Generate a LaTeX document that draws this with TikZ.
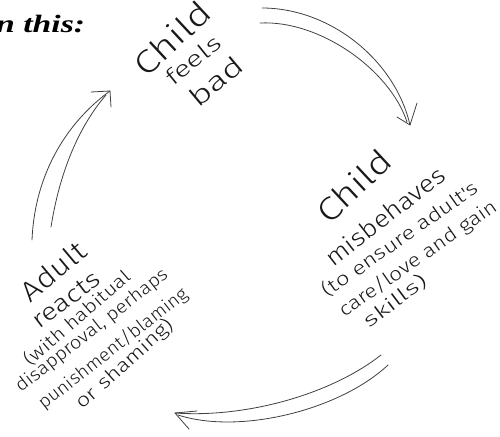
\documentclass[tikz,border=0pt]{standalone}
\usepackage{fontspec}
\usepackage{graphicx}
\newfontfamily\handfont{Fira Sans Light}
\newfontfamily\headfont{Liberation Serif}
\tikzset{
  hw/.style={font=\handfont, inner sep=0pt, text=black!90},
  pen/.style={draw=black!75, line width=0.8pt, line cap=round, line join=round},
}
% a handwritten line: font size, then stretched sideways to a given width
\newcommand{\hwline}[3]{\resizebox{#2}{\height}{\fontsize{#1}{#1}\selectfont #3}}
\begin{document}
\begin{tikzpicture}[x=1pt, y=-1pt]
\useasboundingbox (0,0) rectangle (500,436);

% heading, cut at the left edge
\begin{scope}
\clip (0,0) rectangle (500,436);
\node[anchor=base west, inner sep=0pt, font=\headfont\bfseries\itshape] (head) at (-4,33)
  {\resizebox{89pt}{\height}{\fontsize{25}{29}\selectfont n this:}};
\end{scope}

% --- child feels bad ---
\node[hw, rotate=43] (fa) at (172,38) {\hwline{32}{92pt}{Child}};
\node[hw, rotate=39] (fb) at (193,60) {\hwline{22}{64pt}{feels}};
\node[hw, rotate=40] (fc) at (216,81) {\hwline{26}{62pt}{bad}};

% --- child misbehaves ---
\node[hw, rotate=43] (ma) at (354,186) {\hwline{32}{90pt}{Child}};
\node[hw, rotate=38] (mb) at (385,216) {\hwline{24}{145pt}{misbehaves}};
\node[hw, rotate=35] (mc) at (400,239) {\hwline{19}{186pt}{(to ensure adult's}};
\node[hw, rotate=35] (md) at (418,259) {\hwline{19}{188pt}{care/love and gain}};
\node[hw, rotate=37] (me) at (395,301) {\hwline{19}{74pt}{skills)}};

% --- adult reacts ---
\node[hw, rotate=40] (ra) at (53,271) {\hwline{28}{76pt}{Adult}};
\node[hw, rotate=37] (rb) at (66,300) {\hwline{24}{78pt}{reacts}};
\node[hw, rotate=41] (rc) at (77,318) {\hwline{18}{134pt}{(with habitual}};
\node[hw, rotate=38] (rd) at (92,331) {\hwline{18}{188pt}{disapproval, perhaps}};
\node[hw, rotate=38] (re) at (113,349) {\hwline{18}{184pt}{punishment/blaming}};
\node[hw, rotate=42] (rf) at (125,364) {\hwline{19}{124pt}{or shaming)}};

% arrow end points
\coordinate (t1) at (262,8);   \coordinate (t2) at (260,23);
\coordinate (ttip) at (410,125);
\coordinate (tw1) at (397,117); \coordinate (tw2) at (417,103);

\coordinate (b1) at (381,355); \coordinate (b2) at (388,365);
\coordinate (btip) at (175,413);
\coordinate (bw1) at (197,411); \coordinate (bw2) at (189,429);

\coordinate (l1) at (32,240);  \coordinate (l2) at (51,227);
\coordinate (ltip) at (110,91);
\coordinate (lw1) at (91,92);   \coordinate (lw2) at (111,107);

% top arrow: feels bad -> misbehaves
\draw[pen] (t1) .. controls (330,8) and (395,60) .. (ttip);
\draw[pen] (t2) .. controls (320,20) and (390,70) .. (407,122);
\draw[pen] (tw1) -- (ttip) -- (tw2);

% bottom arrow: misbehaves -> adult reacts
\draw[pen] (b1) .. controls (330,395) and (245,418) .. (btip);
\draw[pen] (b2) .. controls (340,410) and (240,435) .. (178,415);
\draw[pen] (bw1) -- (btip) -- (bw2);

% left arrow: adult reacts -> feels bad
\draw[pen] (l1) .. controls (35,170) and (70,120) .. (ltip);
\draw[pen] (l2) .. controls (60,170) and (80,125) .. (106,95);
\draw[pen] (lw1) -- (ltip) -- (lw2);
\end{tikzpicture}
\end{document}
